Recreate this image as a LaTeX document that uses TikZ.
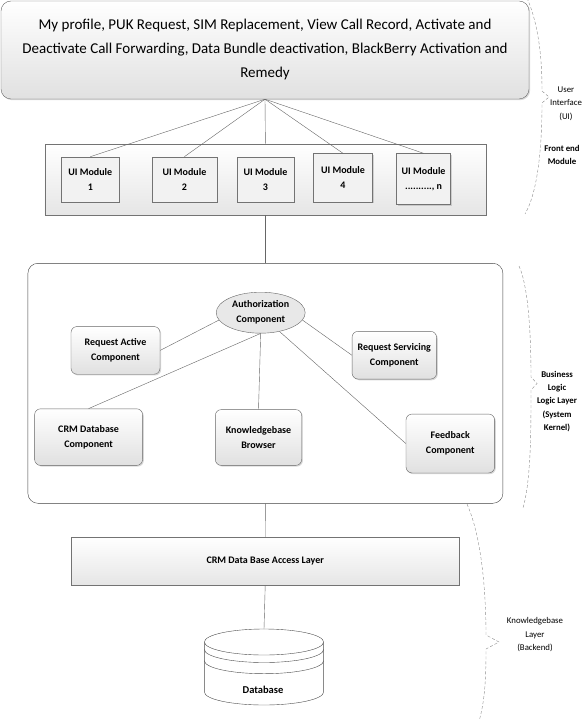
\documentclass[tikz,border=0pt]{standalone}
\usepackage{fontspec}
\setmainfont{Carlito}
\usepackage{tikz}
\usetikzlibrary{calc,shadows,shapes.geometric}

\begin{document}
\begin{tikzpicture}[x=1pt,y=-1pt,
  font=\bfseries\fontsize{10}{15}\selectfont,
  uibar/.style={draw=black!55, top color=white, bottom color=black!10},
  uimod/.style={draw=black!55, fill=black!5, align=center, inner sep=0pt,
    drop shadow={opacity=0.3, shadow xshift=1.2pt, shadow yshift=-1.2pt}},
  comp/.style={draw=black!60, rounded corners=6pt, top color=white, bottom color=black!12,
    align=center, inner sep=0pt,
    drop shadow={opacity=0.3, shadow xshift=1.2pt, shadow yshift=-1.2pt}},
  link/.style={draw=black!60},
  brace/.style={draw=black!45, densely dashed},
  side/.style={font=\fontsize{8.8}{13.4}\selectfont, align=center}]
  \useasboundingbox (0,0) rectangle (584,719);

  % user interface
  \node[comp, rounded corners=10pt, minimum width=528pt, minimum height=98pt,
    font=\mdseries\fontsize{15}{24}\selectfont] (top) at (265,50)
    {My profile, PUK Request, SIM Replacement, View Call Record, Activate and\\
     Deactivate Call Forwarding, Data Bundle deactivation, BlackBerry Activation and\\
     Remedy};
  \node[uibar, minimum width=441pt, minimum height=71pt] (uibar) at (265.4,179.4) {};
  \node[uimod, minimum width=57.5pt, minimum height=45pt] (m1) at (90.3,179.4) {UI Module\\1};
  \node[uimod, minimum width=64.8pt, minimum height=45pt] (m2) at (184.4,179.4) {UI Module\\2};
  \node[uimod, minimum width=57pt, minimum height=45pt] (m3) at (265.5,179.4) {UI Module\\3};
  \node[uimod, minimum width=58.8pt, minimum height=48.4pt] (m4) at (343,177.7) {UI Module\\4};
  \node[uimod, minimum width=54pt, minimum height=51pt] (mn) at (423.6,179) {UI Module\\.........., n};
  \draw[link] (top.south) -- (m1.north);
  \draw[link] (top.south) -- (m2.north);
  \draw[link] (top.south) -- (uibar.north);
  \draw[link] (top.south) -- (m4.north);
  \draw[link] (top.south) -- (mn.north);

  % business logic
  \node[draw=black!75, rounded corners=10pt, fill=white, minimum width=475pt,
    minimum height=240pt] (logic) at (265.4,383.3) {};
  \node[ellipse, draw=black!60, fill=black!9, minimum width=89pt, minimum height=41pt,
    inner sep=0pt, align=center] (auth) at (260.7,312.7) {Authorization\\Component};
  \node[comp, minimum width=89pt, minimum height=47.7pt] (reqact) at (115.5,350.4) {Request Active\\Component};
  \node[comp, minimum width=84.5pt, minimum height=47.7pt] (reqserv) at (394.3,355.2) {Request Servicing\\Component};
  \node[comp, minimum width=108pt, minimum height=56.6pt] (crm) at (88.6,437.1) {CRM Database\\Component};
  \node[comp, minimum width=86.4pt, minimum height=55.8pt] (kb) at (258.5,437.5) {Knowledgebase\\Browser};
  \node[comp, minimum width=88.6pt, minimum height=58.9pt] (fb) at (450.3,443.5) {Feedback\\Component};
  \draw[link] (auth.190) -- (reqact.east);
  \draw[link] (auth.south) -- (crm.north);
  \draw[link] (auth.south) -- (kb.north);
  \draw[link] (auth.-10) -- (reqserv.west);
  \draw[link] (auth.-45) -- (fb.west);
  \draw[link] (uibar.south) -- (logic.north);

  % backend
  \node[uibar, minimum width=387.3pt, minimum height=48.4pt] (access) at (265.2,561.2) {CRM Data Base Access Layer};
  \draw[black!70, fill=white] (204.4,642) -- (204.4,692)
    arc[start angle=180, end angle=0, x radius=59.6, y radius=13] -- (323.6,642);
  \draw[black!70, fill=white] (264,642) ellipse[x radius=59.6, y radius=13];
  \draw[black!70] (204.4,649.5) arc[start angle=180, end angle=0, x radius=59.6, y radius=13];
  \draw[black!70] (204.4,660.7) arc[start angle=180, end angle=0, x radius=59.6, y radius=13];
  \coordinate (dbtop) at (264,629);
  \node[font=\bfseries\fontsize{10.5}{12}\selectfont] (db) at (263,690) {Database};
  \draw[link] (logic.south) -- (access.north);
  \draw[link] (access.south) -- (dbtop);

  % layer braces
  \draw[brace] (527,-2) .. controls (541,30) and (542,70) .. (542,91) -- (549,97) -- (542,103)
    .. controls (542,140) and (539,190) .. (525,214);
  \draw[brace] (519,266) .. controls (530,290) and (531,350) .. (531,377) -- (537,383.5) -- (531,390)
    .. controls (531,430) and (531,480) .. (523,508);
  \draw[brace] (467,504) .. controls (483,540) and (486,600) .. (486,635) -- (499,642) -- (486,649)
    .. controls (486,690) and (484,720) .. (467,750);
  \node[side] (ui) at (566,103.5) {User\\Interface\\(UI)};
  \node[side, font=\bfseries\fontsize{8.8}{13.4}\selectfont] (front) at (562,155) {Front end\\Module};
  \node[side, font=\bfseries\fontsize{8.8}{13.4}\selectfont] (bll) at (557,401.4) {Business\\Logic\\Logic Layer\\(System\\Kernel)};
  \node[side] (kbl) at (535,634.6) {Knowledgebase\\Layer\\(Backend)};
\end{tikzpicture}
\end{document}
